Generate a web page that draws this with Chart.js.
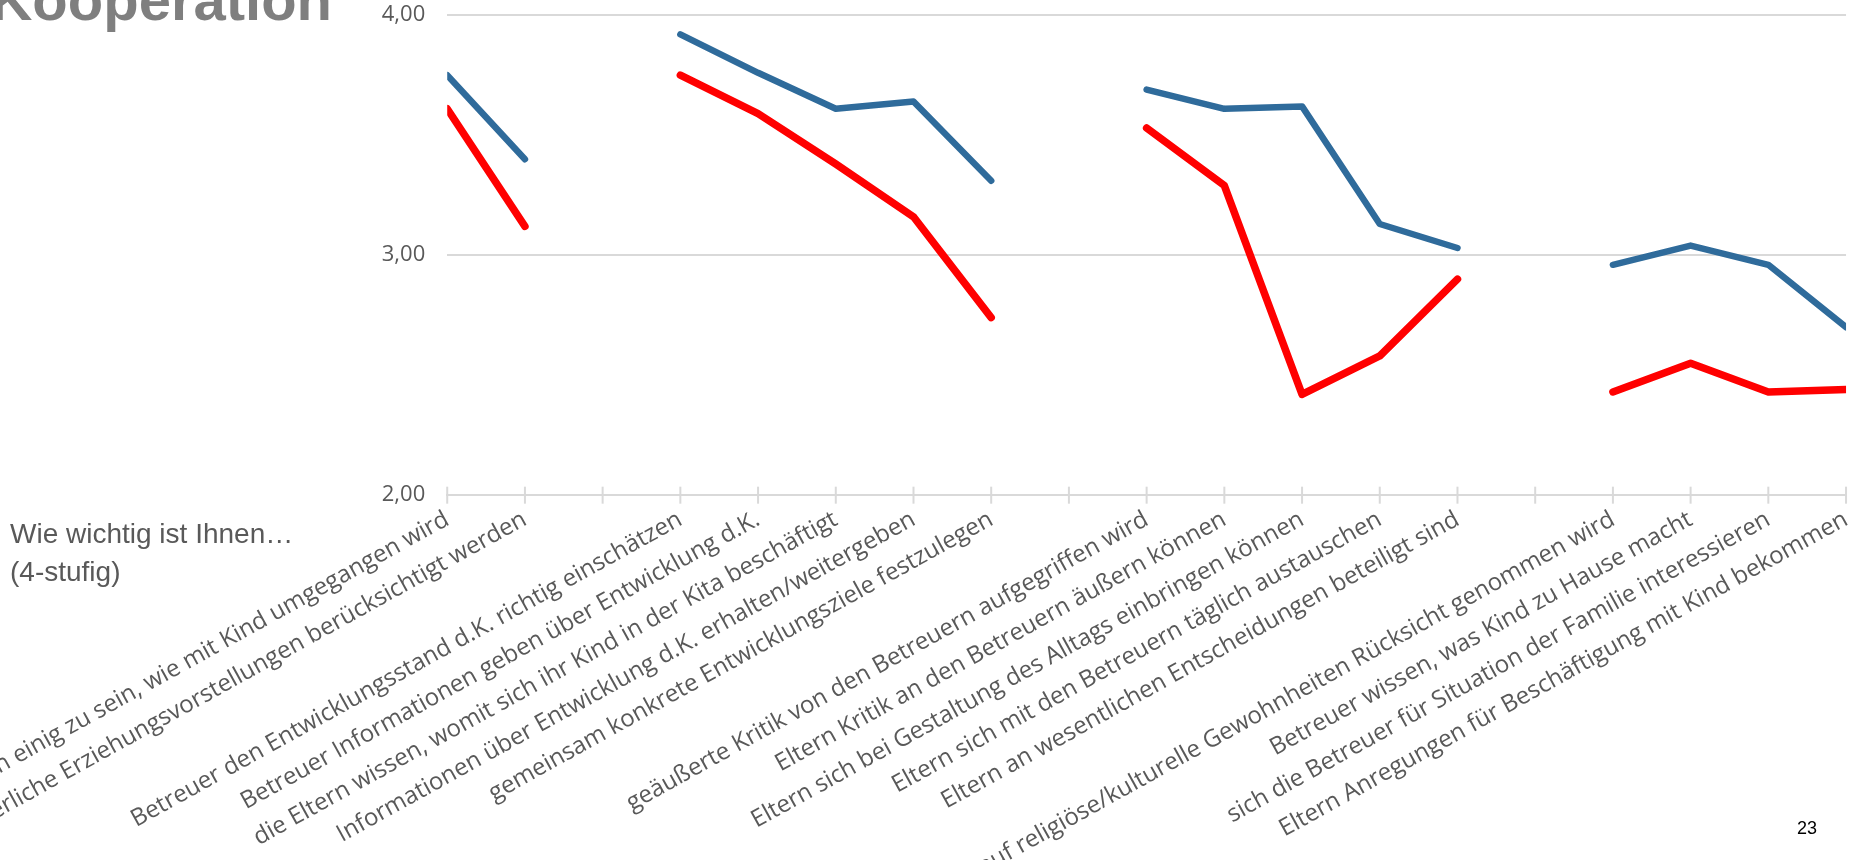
<!DOCTYPE html>
<html>
<head>
<meta charset="utf-8">
<script src="https://cdn.jsdelivr.net/npm/chart.js@4/dist/chart.umd.min.js"></script>
<style>
  html, body { margin: 0; padding: 0; background: #ffffff; }
  body { width: 1865px; height: 860px; overflow: hidden; position: relative; }
  #wrap { position: absolute; left: 0; top: 0; }
  #title { position: absolute; right: 1533px; top: -29px; font: bold 58px "Liberation Sans", Arial, sans-serif; color: #7f7f7f; line-height: 1; white-space: nowrap; }
  #note { position: absolute; left: 10px; top: 515px; font: 28px "Liberation Sans", Arial, sans-serif; color: #595959; line-height: 38px; white-space: nowrap; }
  #page { position: absolute; left: 1797px; top: 819px; font: 18px "Liberation Sans", Arial, sans-serif; color: #000; line-height: 1; }
</style>
</head>
<body>
<div id="wrap"><canvas id="c"></canvas></div>
<div id="title">Kooperation</div>
<div id="note">Wie wichtig ist Ihnen…<br>(4-stufig)</div>
<div id="page">23</div>
<script>
const categories = [
  "mit den Betreuern einig zu sein, wie mit Kind umgegangen wird",
  "elterliche Erziehungsvorstellungen berücksichtigt werden",
  "",
  "Betreuer den Entwicklungsstand d.K. richtig einschätzen",
  "Betreuer Informationen geben über Entwicklung d.K.",
  "die Eltern wissen, womit sich ihr Kind in der Kita beschäftigt",
  "Informationen über Entwicklung d.K. erhalten/weitergeben",
  "gemeinsam konkrete Entwicklungsziele festzulegen",
  "",
  "geäußerte Kritik von den Betreuern aufgegriffen wird",
  "Eltern Kritik an den Betreuern äußern können",
  "Eltern sich bei Gestaltung des Alltags einbringen können",
  "Eltern sich mit den Betreuern täglich austauschen",
  "Eltern an wesentlichen Entscheidungen beteiligt sind",
  "",
  "auf religiöse/kulturelle Gewohnheiten Rücksicht genommen wird",
  "Betreuer wissen, was Kind zu Hause macht",
  "sich die Betreuer für Situation der Familie interessieren",
  "Eltern Anregungen für Beschäftigung mit Kind bekommen"
];
const blueValues = [3.75, 3.40, null, 3.92, 3.76, 3.61, 3.64, 3.31, null, 3.69, 3.61, 3.62, 3.13, 3.03, null, 2.96, 3.04, 2.96, 2.70];
const redValues  = [3.61, 3.12, null, 3.75, 3.59, 3.38, 3.16, 2.74, null, 3.53, 3.29, 2.42, 2.58, 2.90, null, 2.43, 2.55, 2.43, 2.44];
const yMin = 2, yMax = 4, yStep = 1;

// target chart-area box on the page
const TL = 447.7, TR = 1846.7, TT = 15.5, TB = 495.3;

const crossTicks = {
  id: 'crossTicks',
  afterDraw(c) {
    const s = c.scales.x, ctx = c.ctx, y = c.chartArea.bottom;
    ctx.save();
    ctx.strokeStyle = '#d9d9d9';
    ctx.lineWidth = 2;
    s.ticks.forEach((t, i) => {
      const x = s.getPixelForTick(i);
      ctx.beginPath();
      ctx.moveTo(x, y - 8.5);
      ctx.lineTo(x, y + 8.5);
      ctx.stroke();
    });
    ctx.restore();
  }
};

function makeConfig() {
  return {
    type: 'line',
    data: {
      labels: categories,
      datasets: [
        { label: 'A', data: blueValues, borderColor: '#2f6b9b', borderWidth: 6.5, pointRadius: 0,
          borderCapStyle: 'round', borderJoinStyle: 'round', spanGaps: false, clip: 0, tension: 0 },
        { label: 'B', data: redValues, borderColor: '#ff0000', borderWidth: 7.5, pointRadius: 0,
          borderCapStyle: 'round', borderJoinStyle: 'round', spanGaps: false, clip: 0, tension: 0 }
      ]
    },
    options: {
      responsive: false,
      animation: false,
      devicePixelRatio: 1,
      layout: { padding: 0 },
      plugins: { legend: { display: false }, tooltip: { enabled: false } },
      scales: {
        x: {
          type: 'category',
          offset: false,
          grid: { display: false, drawTicks: false },
          border: { display: true, color: '#d9d9d9', width: 2 },
          ticks: {
            autoSkip: false, maxRotation: 29, minRotation: 29, padding: 10,
            color: '#595959', font: { family: '"Open Sans", sans-serif', size: 24 }
          }
        },
        y: {
          min: yMin, max: yMax,
          grid: { color: '#d9d9d9', lineWidth: 2, drawTicks: false },
          border: { display: false },
          ticks: {
            stepSize: yStep, padding: 22, color: '#595959',
            font: { family: '"Open Sans", sans-serif', size: 22 },
            callback: v => v.toFixed(2).replace('.', ',')
          }
        }
      }
    },
    plugins: [crossTicks]
  };
}

const canvas = document.getElementById('c');
const wrap = document.getElementById('wrap');
function build(w, h) {
  canvas.width = w; canvas.height = h;
  canvas.style.width = w + 'px'; canvas.style.height = h + 'px';
  return new Chart(canvas.getContext('2d'), makeConfig());
}
let W = 2300, H = 950;
let chart = build(W, H);
for (let k = 0; k < 4; k++) {
  const ca = chart.chartArea;
  const dw = (TR - TL) - (ca.right - ca.left);
  const dh = (TB - TT) - (ca.bottom - ca.top);
  if (Math.abs(dw) < 0.5 && Math.abs(dh) < 0.5) break;
  W = Math.round(W + dw); H = Math.round(H + dh);
  chart.destroy();
  chart = build(W, H);
}
wrap.style.left = (TL - chart.chartArea.left) + 'px';
wrap.style.top = (TT - chart.chartArea.top) + 'px';
</script>
</body>
</html>
